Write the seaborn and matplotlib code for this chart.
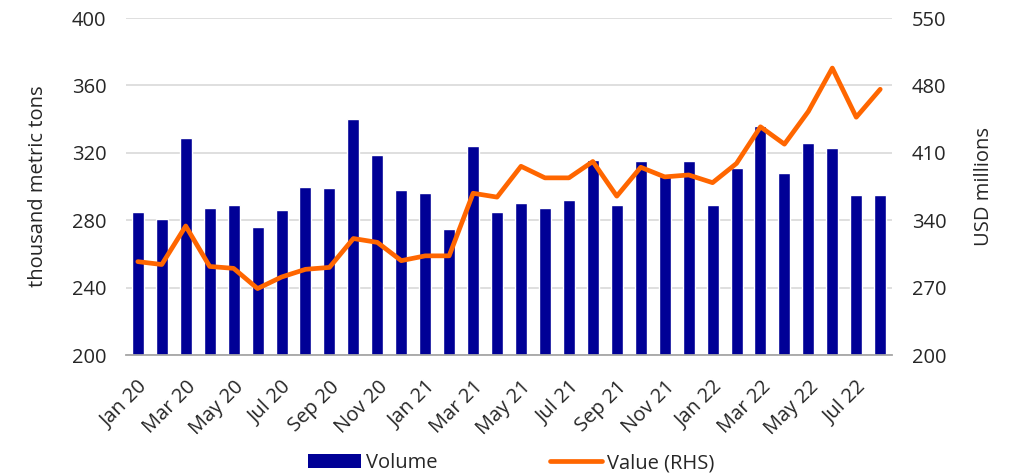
import matplotlib
matplotlib.use("Agg")
import matplotlib.pyplot as plt
import seaborn as sns
import pandas as pd
from matplotlib.patches import Patch
from matplotlib.lines import Line2D

# Monthly data, Jan 2020 - Aug 2022
months = ["Jan 20", "Feb 20", "Mar 20", "Apr 20", "May 20", "Jun 20", "Jul 20", "Aug 20",
          "Sep 20", "Oct 20", "Nov 20", "Dec 20", "Jan 21", "Feb 21", "Mar 21", "Apr 21",
          "May 21", "Jun 21", "Jul 21", "Aug 21", "Sep 21", "Oct 21", "Nov 21", "Dec 21",
          "Jan 22", "Feb 22", "Mar 22", "Apr 22", "May 22", "Jun 22", "Jul 22", "Aug 22"]

# thousand metric tons (left axis)
volume = [285, 281, 329, 287, 289, 276, 286, 300,
          299, 340, 319, 298, 296, 275, 324, 285,
          290, 287, 292, 316, 289, 315, 306, 315,
          289, 311, 336, 308, 326, 323, 295, 295]

# USD millions (right axis)
value = [297, 294, 334, 292, 290, 269, 281, 289,
         291, 321, 317, 298, 303, 303, 368, 364,
         396, 384, 384, 401, 365, 395, 385, 387,
         379, 399, 437, 419, 453, 498, 447, 476]

df = pd.DataFrame({"month": months, "volume": volume, "value": value})
df["pos"] = range(len(df))

bar_color = "#000096"
line_color = "#FF6600"
text_color = "#262626"
fs = 14.5

sns.set_style("white")
plt.rcParams["font.family"] = ["Open Sans", "DejaVu Sans"]

fig, ax = plt.subplots(figsize=(10.15, 4.74), dpi=100)
fig.subplots_adjust(left=0.124, right=0.879, top=0.962, bottom=0.251)

sns.barplot(data=df, x="month", y="volume", color=bar_color, width=0.5,
            saturation=1, ax=ax, zorder=2)
ax.set_ylim(200, 400)
ax.set_yticks(range(200, 401, 40))
ax.yaxis.grid(True, color="#d9d9d9", linewidth=1.2, zorder=0)
ax.set_axisbelow(True)
ax.set_xlim(-0.5, len(df) - 0.5)

ax2 = ax.twinx()
sns.lineplot(data=df, x="pos", y="value", color=line_color, linewidth=3.4,
             ax=ax2, zorder=3)
ax2.set_ylim(200, 550)
ax2.set_yticks(range(200, 551, 70))
ax2.set_xlim(-0.5, len(df) - 0.5)

ax.set_xticks(range(0, len(df), 2))
ax.set_xticklabels(months[::2], rotation=45, ha="right", rotation_mode="anchor")

for a in (ax, ax2):
    for s in ["top", "left", "right", "bottom"]:
        a.spines[s].set_visible(False)
    a.tick_params(axis="both", length=0, labelsize=fs, labelcolor=text_color)
ax.spines["bottom"].set_visible(True)
ax.spines["bottom"].set_color("#a6a6a6")
ax.spines["bottom"].set_linewidth(1.3)
ax.tick_params(axis="x", pad=16)
ax.tick_params(axis="y", pad=14)
ax2.tick_params(axis="y", pad=14)

ax.set_xlabel("")
ax.set_ylabel("thousand metric tons", fontsize=fs, color=text_color, labelpad=17)
ax2.set_ylabel("USD millions", fontsize=fs, color=text_color, labelpad=20)

handles = [Patch(facecolor=bar_color, edgecolor="none"),
           Line2D([0], [0], color=line_color, linewidth=3.4)]
fig.legend(handles, ["Volume", "Value (RHS)"], loc="center",
           bbox_to_anchor=(0.504, 0.023), ncol=2, frameon=False, fontsize=fs,
           handlelength=2.6, handleheight=0.7, handletextpad=0.25,
           columnspacing=5.6, labelcolor=text_color)

fig.savefig("out.png", dpi=100)
